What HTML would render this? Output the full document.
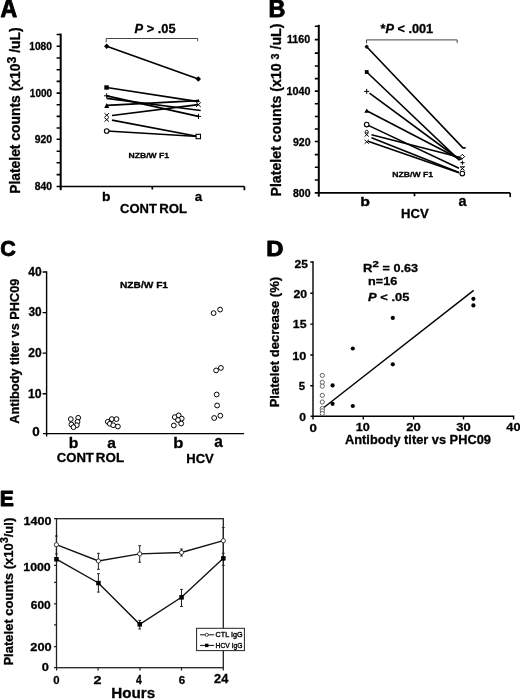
<!DOCTYPE html>
<html><head><meta charset="utf-8">
<style>
html,body{margin:0;padding:0;background:#fff;}
body{width:520px;height:700px;overflow:hidden;}
svg{display:block;will-change:transform;filter:blur(0.3px);}
text{font-family:"Liberation Sans",sans-serif;font-weight:bold;fill:#000;stroke:#000;stroke-width:0.3px;stroke-linejoin:round;}
</style></head><body>
<svg width="520" height="700" viewBox="0 0 520 700">
<rect width="520" height="700" fill="#fff"/>
<text x="0.47" y="17.45" font-size="25.29" textLength="16.68" lengthAdjust="spacingAndGlyphs" style="stroke-width:0.9px">A</text>
<path d="M60.7 33.6V190.2" stroke="#000" stroke-width="2" fill="none"/>
<path d="M56.6 34.5H60.7M56.6 46.3H60.7M56.6 58H60.7M56.6 69.7H60.7M56.6 81.4H60.7M56.6 93.1H60.7M56.6 104.7H60.7M56.6 116.4H60.7M56.6 128.0H60.7M56.6 139.2H60.7M56.6 151.2H60.7M56.6 162.8H60.7M56.6 174.6H60.7M56.6 186.5H60.7" stroke="#000" stroke-width="1.6" fill="none"/>
<text x="29.26" y="50.00" font-size="10.59" textLength="22.76" lengthAdjust="spacingAndGlyphs">1080</text>
<text x="29.87" y="97.20" font-size="10.31" textLength="22.24" lengthAdjust="spacingAndGlyphs">1000</text>
<text x="34.84" y="142.90" font-size="10.45" textLength="17.28" lengthAdjust="spacingAndGlyphs">920</text>
<text x="34.87" y="189.80" font-size="10.31" textLength="17.25" lengthAdjust="spacingAndGlyphs">840</text>
<path d="M59.7 186.5H244.4M152.3 186.5V189.6M244.4 186.5V190.2" stroke="#000" stroke-width="1.7" fill="none"/>
<text x="102.03" y="201.02" font-size="13.48" textLength="8.49" lengthAdjust="spacingAndGlyphs">b</text>
<text x="194.76" y="200.92" font-size="12.96" textLength="7.41" lengthAdjust="spacingAndGlyphs">a</text>
<text x="120.02" y="212.53" font-size="12.71" textLength="36.87" lengthAdjust="spacingAndGlyphs">CONT</text>
<text x="159.27" y="212.53" font-size="12.71" textLength="27.89" lengthAdjust="spacingAndGlyphs">ROL</text>
<text x="134.52" y="33.23" font-size="12.29" textLength="41.08" lengthAdjust="spacingAndGlyphs"><tspan font-style="italic">P</tspan> &gt; .05</text>
<path d="M106.2 42.2V38.5H197.7V41.2" stroke="#444" stroke-width="1" fill="none"/>
<text x="128.58" y="157.99" font-size="7.92" textLength="40.51" lengthAdjust="spacingAndGlyphs">NZB/W F1</text>
<text x="268.58" y="16.75" font-size="24.13" textLength="16.93" lengthAdjust="spacingAndGlyphs" style="stroke-width:0.9px">B</text>
<path d="M318.8 24.8V196.6" stroke="#000" stroke-width="2" fill="none"/>
<path d="M314.8 26.2H318.8M314.8 39.6H318.8M314.8 53.1H318.8M314.8 66H318.8M314.8 78.6H318.8M314.8 91.1H318.8M314.8 103.8H318.8M314.8 116.5H318.8M314.8 129.0H318.8M314.8 141.5H318.8M314.8 154.6H318.8M314.8 167.2H318.8M314.8 180.0H318.8M314.8 192.9H318.8" stroke="#000" stroke-width="1.6" fill="none"/>
<text x="286.94" y="43.40" font-size="10.31" textLength="23.29" lengthAdjust="spacingAndGlyphs">1160</text>
<text x="286.62" y="95.00" font-size="10.45" textLength="23.92" lengthAdjust="spacingAndGlyphs">1040</text>
<text x="292.93" y="145.70" font-size="10.59" textLength="17.60" lengthAdjust="spacingAndGlyphs">920</text>
<text x="292.97" y="196.80" font-size="10.31" textLength="17.57" lengthAdjust="spacingAndGlyphs">800</text>
<path d="M318 192.9H510.2M414.5 192.9V196.2M510.2 192.9V197" stroke="#000" stroke-width="1.7" fill="none"/>
<text x="360.30" y="206.02" font-size="13.21" textLength="9.70" lengthAdjust="spacingAndGlyphs">b</text>
<text x="458.43" y="205.81" font-size="14.24" textLength="8.03" lengthAdjust="spacingAndGlyphs">a</text>
<text x="401.02" y="217.97" font-size="12.99" textLength="27.67" lengthAdjust="spacingAndGlyphs">HCV</text>
<text x="380.51" y="32.73" font-size="12.01" textLength="52.69" lengthAdjust="spacingAndGlyphs">*<tspan font-style="italic">P</tspan> &lt; .001</text>
<path d="M366.5 43.2V39.9H457.2V43" stroke="#444" stroke-width="1" fill="none"/>
<text x="392.37" y="177.39" font-size="7.79" textLength="40.72" lengthAdjust="spacingAndGlyphs">NZB/W F1</text>
<text x="0.17" y="255.63" font-size="22.88" textLength="15.57" lengthAdjust="spacingAndGlyphs" style="stroke-width:0.9px">C</text>
<text transform="translate(18.60,423.77) rotate(-90)" font-size="13.52" textLength="145.09" lengthAdjust="spacingAndGlyphs">Antibody titer vs PHC09</text>
<path d="M46.6 271.3V434.2" stroke="#000" stroke-width="1.4" fill="none"/>
<path d="M42.6 272H46.6M42.6 312.6H46.6M42.6 353.1H46.6M42.6 393.7H46.6" stroke="#000" stroke-width="1.4" fill="none"/>
<text x="28.27" y="276.43" font-size="12.57" textLength="13.38" lengthAdjust="spacingAndGlyphs">40</text>
<text x="28.48" y="316.41" font-size="12.54" textLength="13.16" lengthAdjust="spacingAndGlyphs">30</text>
<text x="28.34" y="356.93" font-size="12.57" textLength="13.31" lengthAdjust="spacingAndGlyphs">20</text>
<text x="27.98" y="397.53" font-size="12.57" textLength="13.68" lengthAdjust="spacingAndGlyphs">10</text>
<text x="32.22" y="436.33" font-size="12.57" textLength="7.48" lengthAdjust="spacingAndGlyphs">0</text>
<path d="M43 433.6H244.1M46.6 433.6V436.5" stroke="#000" stroke-width="1.4" fill="none"/>
<text x="68.72" y="448.30" font-size="15.25" textLength="9.58" lengthAdjust="spacingAndGlyphs">b</text>
<text x="107.39" y="447.90" font-size="15.52" textLength="8.66" lengthAdjust="spacingAndGlyphs">a</text>
<text x="173.35" y="448.10" font-size="15.25" textLength="10.18" lengthAdjust="spacingAndGlyphs">b</text>
<text x="214.20" y="447.49" font-size="15.88" textLength="8.55" lengthAdjust="spacingAndGlyphs">a</text>
<text x="56.71" y="462.03" font-size="12.43" textLength="37.18" lengthAdjust="spacingAndGlyphs">CONT</text>
<text x="95.86" y="462.03" font-size="12.43" textLength="28.20" lengthAdjust="spacingAndGlyphs">ROL</text>
<text x="186.28" y="462.82" font-size="12.99" textLength="27.56" lengthAdjust="spacingAndGlyphs">HCV</text>
<text x="119.97" y="287.66" font-size="9.27" textLength="48.06" lengthAdjust="spacingAndGlyphs">NZB/W F1</text>
<text x="266.26" y="255.55" font-size="21.37" textLength="17.19" lengthAdjust="spacingAndGlyphs" style="stroke-width:0.9px">D</text>
<text transform="translate(278.80,407.32) rotate(-90)" font-size="13.52" textLength="130.42" lengthAdjust="spacingAndGlyphs">Platelet decrease (%)</text>
<path d="M313 261.2V417.1" stroke="#000" stroke-width="1.4" fill="none"/>
<path d="M310.3 262H313M310.3 293.2H313M310.3 324.1H313M310.3 355H313M310.3 385.7H313" stroke="#000" stroke-width="1.4" fill="none"/>
<text x="294.53" y="267.54" font-size="11.72" textLength="13.35" lengthAdjust="spacingAndGlyphs">25</text>
<text x="293.53" y="297.64" font-size="11.16" textLength="13.63" lengthAdjust="spacingAndGlyphs">20</text>
<text x="292.88" y="328.14" font-size="11.61" textLength="13.61" lengthAdjust="spacingAndGlyphs">15</text>
<text x="292.25" y="359.64" font-size="11.72" textLength="14.12" lengthAdjust="spacingAndGlyphs">10</text>
<text x="298.70" y="390.44" font-size="11.75" textLength="6.37" lengthAdjust="spacingAndGlyphs">5</text>
<text x="299.37" y="420.74" font-size="11.72" textLength="6.78" lengthAdjust="spacingAndGlyphs">0</text>
<path d="M310.6 416.3H514.4M313 416.3V419.4M363.3 416.3V419.4M413.6 416.3V419.4M463.5 416.3V419.4M513.6 416.3V419.4" stroke="#000" stroke-width="1.4" fill="none"/>
<text x="309.63" y="432.04" font-size="11.58" textLength="7.37" lengthAdjust="spacingAndGlyphs">0</text>
<text x="355.76" y="431.34" font-size="11.30" textLength="14.01" lengthAdjust="spacingAndGlyphs">10</text>
<text x="406.20" y="431.04" font-size="11.30" textLength="14.49" lengthAdjust="spacingAndGlyphs">20</text>
<text x="456.35" y="431.02" font-size="11.28" textLength="14.43" lengthAdjust="spacingAndGlyphs">30</text>
<text x="506.36" y="431.04" font-size="11.30" textLength="14.22" lengthAdjust="spacingAndGlyphs">40</text>
<text x="345.03" y="444.00" font-size="12.49" textLength="145.89" lengthAdjust="spacingAndGlyphs">Antibody titer vs PHC09</text>
<text x="362.98" y="271.55" font-size="11.63" textLength="9.44" lengthAdjust="spacingAndGlyphs">R</text>
<text x="372.45" y="267.45" font-size="8.74" textLength="6.35" lengthAdjust="spacingAndGlyphs">2</text>
<text x="382.63" y="271.63" font-size="10.99" textLength="35.38" lengthAdjust="spacingAndGlyphs">= 0.63</text>
<text x="368.02" y="285.34" font-size="11.44" textLength="29.19" lengthAdjust="spacingAndGlyphs">n=16</text>
<text x="368.12" y="300.54" font-size="11.58" textLength="41.29" lengthAdjust="spacingAndGlyphs"><tspan font-style="italic">P</tspan> &lt; .05</text>
<text x="-0.27" y="506.15" font-size="22.24" textLength="14.15" lengthAdjust="spacingAndGlyphs" style="stroke-width:0.9px">E</text>
<text x="23.56" y="524.84" font-size="11.58" textLength="27.90" lengthAdjust="spacingAndGlyphs">1400</text>
<text x="23.27" y="571.04" font-size="11.72" textLength="27.48" lengthAdjust="spacingAndGlyphs">1000</text>
<text x="30.81" y="608.95" font-size="10.73" textLength="19.93" lengthAdjust="spacingAndGlyphs">600</text>
<text x="30.31" y="651.04" font-size="11.72" textLength="21.37" lengthAdjust="spacingAndGlyphs">200</text>
<text x="41.74" y="671.34" font-size="11.16" textLength="7.13" lengthAdjust="spacingAndGlyphs">0</text>
<text x="53.20" y="684.34" font-size="11.30" textLength="6.31" lengthAdjust="spacingAndGlyphs">0</text>
<text x="93.45" y="684.45" font-size="11.46" textLength="7.97" lengthAdjust="spacingAndGlyphs">2</text>
<text x="135.99" y="684.25" font-size="12.06" textLength="5.81" lengthAdjust="spacingAndGlyphs">4</text>
<text x="178.63" y="684.14" font-size="11.72" textLength="6.44" lengthAdjust="spacingAndGlyphs">6</text>
<text x="214.11" y="682.75" font-size="12.32" textLength="14.21" lengthAdjust="spacingAndGlyphs">24</text>
<text x="111.23" y="698.41" font-size="14.48" textLength="43.94" lengthAdjust="spacingAndGlyphs">Hours</text>

<!-- rotated labels with superscripts -->
<text id="ylA" transform="translate(20.0,193.84) rotate(-90)" font-size="14" textLength="166.4" lengthAdjust="spacingAndGlyphs">Platelet counts (x10<tspan dy="-4.5" font-size="12.5">3</tspan><tspan dy="4.5"> /uL)</tspan></text>
<text id="ylB" transform="translate(281.4,196.54) rotate(-90)" font-size="14" textLength="173" lengthAdjust="spacingAndGlyphs">Platelet counts (x10 <tspan dy="-2.3" font-size="10.6">3</tspan><tspan dy="2.3"> /uL)</tspan></text>
<text id="ylE" transform="translate(12.9,665.6) rotate(-90)" font-size="13" textLength="147.9" lengthAdjust="spacingAndGlyphs">Platelet counts (x10<tspan dx="0.2" dy="-4.8" font-size="10.4">3</tspan><tspan dy="5">/ul)</tspan></text>

<!-- A data -->
<g stroke="#000" stroke-width="1.7" fill="none">
<path d="M106.7 46.3L198.3 79"/>
<path d="M106.7 87.5L198.3 101.7"/>
<path d="M106.7 95.8L198.3 116.4"/>
<path d="M106.7 98.4L200.7 110.5"/>
<path d="M106.7 105.3L198.3 100.7"/>
<path d="M112 115.5L198.3 104.7"/>
<path d="M112 120.2L198.3 136.5"/>
<path d="M106.7 131L198.3 136.5"/>
</g>
<path d="M106.7 43.6L109.4 46.3L106.7 49L104 46.3Z M198.3 76.3L201 79L198.3 81.7L195.6 79Z" fill="#000"/>
<rect x="104.3" y="85.3" width="4.5" height="4.4" fill="#000"/>
<path d="M104.2 108L106.7 103L109.2 108Z M196.6 102L198.3 98.7L200 102Z" fill="#000"/>
<g stroke="#000" stroke-width="1" fill="none">
<path d="M104 95.8H109.5M106.7 93.2V98.4"/>
<path d="M196 116.4H201M198.5 113.8V119"/>
<path d="M104.5 113.2L108.9 117.2M108.9 113.2L104.5 117.2M104.5 117.6L108.9 121.6M108.9 117.6L104.5 121.6"/>
<path d="M196 102.4L200.8 107M200.8 102.4L196 107"/>
</g>
<circle cx="106.7" cy="131" r="2.3" fill="#fff" stroke="#000" stroke-width="1.1"/>
<rect x="196.1" y="134.3" width="4.4" height="4.4" fill="#fff" stroke="#000" stroke-width="1.1"/>

<!-- B data -->
<g stroke="#000" stroke-width="1.6" fill="none">
<path d="M366.7 46.8L462.9 147.9H465.6"/>
<path d="M366.7 72L459 159.8L462.3 158.6"/>
<path d="M369.5 93.2L459.5 159.5"/>
<path d="M366.7 110.7L459.5 159"/>
<path d="M366.7 124.6L459 168.2"/>
<path d="M371.5 134.8L460.5 157.5"/>
<path d="M371.5 137.8L459 172.5"/>
<path d="M368 141.2L459 172.8"/>
</g>
<path d="M366.7 44.6L368.9 46.8L366.7 49L364.5 46.8Z" fill="#000"/>
<rect x="364.8" y="70.1" width="3.8" height="3.8" fill="#000"/>
<path d="M364.3 112.8L366.7 108.4L369.1 112.8Z" fill="#000"/>
<g stroke="#000" stroke-width="1" fill="none">
<path d="M364.2 91.4H369.2M366.7 88.9V93.9"/>
<path d="M460.3 162.7H464.5M462.4 160.6V164.8"/>
<path d="M364.6 132.6L368.8 136.6M368.8 132.6L364.6 136.6"/>
<path d="M364.6 139.8L368.8 143.8M368.8 139.8L364.6 143.8"/>
<path d="M460.2 166.6L464.6 170.6M464.6 166.6L460.2 170.6M460.2 166.8H464.6"/>
</g>
<circle cx="366.7" cy="124.6" r="2.3" fill="#fff" stroke="#000" stroke-width="1.1"/>
<circle cx="366.7" cy="131.6" r="1.4" fill="#fff" stroke="#000" stroke-width="0.9"/>
<path d="M462.3 154.3L464.6 156.6L462.3 158.9L460 156.6Z" fill="#fff" stroke="#000" stroke-width="1"/>
<circle cx="462.3" cy="173.6" r="2.3" fill="#fff" stroke="#000" stroke-width="1.1"/>
<!-- C data -->
<g fill="#fff" stroke="#000" stroke-width="1">
<circle cx="70.8" cy="419.1" r="2.4"/>
<circle cx="78.2" cy="417.8" r="2.4"/>
<circle cx="77.5" cy="421.8" r="2.4"/>
<circle cx="71.4" cy="424.5" r="2.4"/>
<circle cx="76.8" cy="425.2" r="2.4"/>
<circle cx="73.5" cy="427.2" r="2.4"/>
<circle cx="107.8" cy="421.8" r="2.4"/>
<circle cx="111.8" cy="419.1" r="2.4"/>
<circle cx="116.5" cy="419.1" r="2.4"/>
<circle cx="109.8" cy="423.8" r="2.4"/>
<circle cx="113.2" cy="425.2" r="2.4"/>
<circle cx="117.9" cy="426.5" r="2.4"/>
<circle cx="174.8" cy="417.1" r="2.4"/>
<circle cx="178.7" cy="415.4" r="2.4"/>
<circle cx="181.7" cy="418.6" r="2.4"/>
<circle cx="178" cy="420" r="2.4"/>
<circle cx="181.2" cy="423.5" r="2.4"/>
<circle cx="173.8" cy="425.5" r="2.4"/>
<circle cx="213.6" cy="313.1" r="2.4"/>
<circle cx="220.1" cy="309.6" r="2.4"/>
<circle cx="216.1" cy="370.4" r="2.4"/>
<circle cx="220.9" cy="367.9" r="2.4"/>
<circle cx="216.7" cy="394.5" r="2.4"/>
<circle cx="217.1" cy="405.5" r="2.4"/>
<circle cx="214.2" cy="418" r="2.4"/>
<circle cx="220.3" cy="415.7" r="2.4"/>
</g>

<!-- D data -->
<path d="M322.3 408.7L473.7 290.4" stroke="#000" stroke-width="1.4" fill="none"/>
<g fill="#fff" stroke="#555" stroke-width="0.9">
<circle cx="322.3" cy="375.4" r="2.1"/>
<circle cx="322.3" cy="382.3" r="2.1"/>
<circle cx="322.3" cy="386.2" r="2.1"/>
<circle cx="322.3" cy="395.4" r="2.1"/>
<circle cx="322.3" cy="402" r="2.1"/>
<circle cx="322.3" cy="408.5" r="2.1"/>
<circle cx="322.3" cy="410.8" r="2.1"/>
<circle cx="322.3" cy="413.5" r="2.1"/>
</g>
<g fill="#000">
<circle cx="332.6" cy="385.4" r="2.1"/>
<circle cx="332.6" cy="403.8" r="2.1"/>
<circle cx="352.8" cy="348.5" r="2.1"/>
<circle cx="352.8" cy="406" r="2.1"/>
<circle cx="392.8" cy="317.9" r="2.1"/>
<circle cx="392.8" cy="364.3" r="2.1"/>
<circle cx="473.4" cy="298.8" r="2.1"/>
<circle cx="473.4" cy="305.4" r="2.1"/>
</g>

<!-- E frame & data -->
<rect x="56.5" y="518.7" width="166.8" height="149" fill="none" stroke="#222" stroke-width="1.3"/>
<path d="M54 518.7H56.5M54 565.3H56.5M54 582.4H56.5M54 603.8H56.5M54 624.8H56.5M54 646.7H56.5M54 667.7H56.5" stroke="#222" stroke-width="1.2" fill="none"/>
<path d="M56.6 667.7V670.5M98.1 667.7V670.5M140 667.7V670.5M181.5 667.7V670.5M223.3 667.7V670.5" stroke="#222" stroke-width="1.2" fill="none"/>
<g stroke="#222" stroke-width="1" fill="none">
<path d="M56.4 536V554M55 536H57.8M55 554H57.8"/>
<path d="M98.4 553.3V569.3M97 553.3H99.8M97 569.3H99.8"/>
<path d="M139.7 545.7V562.2M138.3 545.7H141.1M138.3 562.2H141.1"/>
<path d="M181.5 549V556M180.1 549H182.9M180.1 556H182.9"/>
<path d="M223.3 527.6V553.6M221.9 527.6H224.7"/>
<path d="M98.4 573.7V592.1M97 573.7H99.8M97 592.1H99.8"/>
<path d="M139.7 620.4V629M138.3 620.4H141.1M138.3 629H141.1"/>
<path d="M181.5 589.4V606.5M180.1 589.4H182.9M180.1 606.5H182.9"/>
<path d="M223.3 553.3V565.4M221.9 553.3H224.7M221.9 565.4H224.7"/>
</g>
<g stroke="#111" stroke-width="1.4" fill="none">
<path d="M56.4 544.7L98.4 561L139.7 553.9L181.5 552.5L223.3 540.7"/>
<path d="M56.4 559.2L98.4 583L139.7 624.3L181.5 597.3L223.3 558.3"/>
</g>
<g fill="#fff" stroke="#222" stroke-width="0.9">
<circle cx="56.4" cy="544.7" r="2.1"/>
<circle cx="98.4" cy="561" r="2.1"/>
<circle cx="139.7" cy="553.9" r="2.1"/>
<circle cx="181.5" cy="552.5" r="2.1"/>
<circle cx="223.3" cy="540.7" r="2.1"/>
</g>
<g fill="#000">
<rect x="54.2" y="557" width="4.5" height="4.5"/>
<rect x="96.2" y="580.8" width="4.5" height="4.5"/>
<rect x="137.5" y="622.1" width="4.5" height="4.5"/>
<rect x="179.3" y="595.1" width="4.5" height="4.5"/>
<rect x="221.1" y="556.1" width="4.5" height="4.5"/>
</g>
<rect x="196.6" y="628.3" width="47.8" height="22.3" fill="#fff" stroke="#222" stroke-width="1"/>
<path d="M200.1 634.8H214.2M200.1 645.4H214.2" stroke="#111" stroke-width="1" fill="none"/>
<circle cx="206.7" cy="634.8" r="1.6" fill="#fff" stroke="#222" stroke-width="0.8"/>
<rect x="205" y="643.7" width="3.4" height="3.4" fill="#000"/>
<text x="215.6" y="636.8" font-size="6.9" textLength="26.9" lengthAdjust="spacingAndGlyphs" style="font-weight:normal;stroke-width:0.35px">CTL IgG</text>
<text x="215.6" y="647.8" font-size="6.9" textLength="26.9" lengthAdjust="spacingAndGlyphs" style="font-weight:normal;stroke-width:0.35px">HCV IgG</text>
</svg>
</body></html>
